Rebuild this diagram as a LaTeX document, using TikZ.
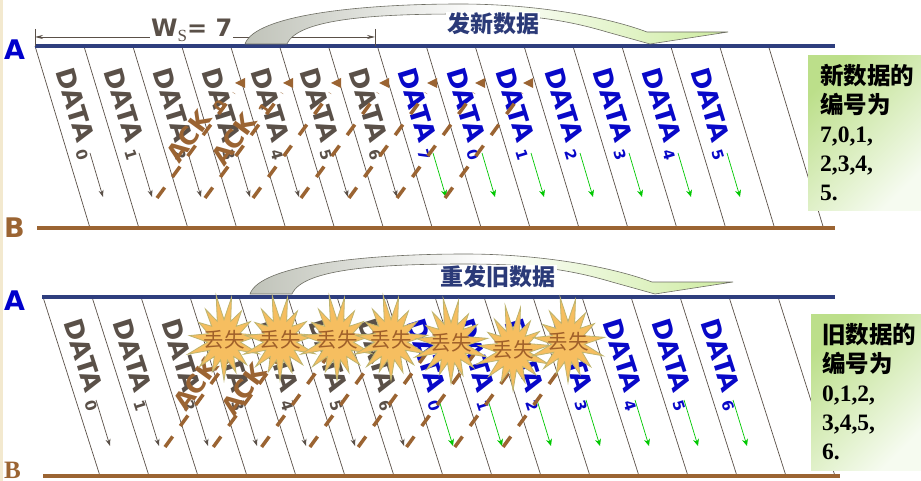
\documentclass[tikz,border=0pt]{standalone}
\usepackage{fontspec}
\setmainfont{Liberation Serif}
\setsansfont{Liberation Sans}
\newfontfamily\cjk{Noto Sans CJK SC}
\newfontfamily\dvs{DejaVu Sans}
\usetikzlibrary{arrows.meta}

\definecolor{navy}{RGB}{46,62,126}
\definecolor{blueA}{RGB}{0,0,204}
\definecolor{dblue}{RGB}{8,8,200}
\definecolor{brn}{RGB}{155,100,50}
\definecolor{dgray}{RGB}{90,80,72}
\definecolor{grn}{RGB}{0,200,0}
\definecolor{starfill}{RGB}{246,190,96}
\definecolor{staredge}{RGB}{190,180,110}
\definecolor{startxt}{RGB}{160,96,42}
\definecolor{arrowgray}{RGB}{192,195,185}
\definecolor{arrowgreen}{RGB}{205,235,160}
\definecolor{arrowedge}{RGB}{110,110,100}
\definecolor{beige}{RGB}{243,233,207}
\definecolor{titlecol}{RGB}{43,58,120}
\definecolor{boxdark}{RGB}{188,223,138}
\definecolor{boxlight}{RGB}{246,251,240}

\newcommand{\mysubdig}[2]{\hspace{#1}\raisebox{-4pt}{\fontsize{15}{15}\selectfont #2}}
\newcommand{\lossstar}[3]{%
  \filldraw[fill=starfill, draw=staredge, line width=0.8pt]
    plot[samples=30, domain=0:29, variable=\k]
    ({#2+(25+8.5*cos(180*\k))*(1+0.07*sin(137*\k)*(1+cos(180*\k)))*cos(90+12*\k)},
     {#3+(30.5+10*cos(180*\k))*(1+0.07*sin(137*\k)*(1+cos(180*\k)))*sin(90+12*\k)}) -- cycle;
  \node[losstext] (lost#1) at (#2,#3) {丢失};
}

\tikzset{
  slant/.style={draw=dgray, line width=0.7pt},
  aline/.style={draw=navy, line width=4pt},
  bline/.style={draw=brn, line width=4pt},
  datalbl/.style={inner sep=0pt, anchor=base west, font=\dvs\bfseries\fontsize{26}{26}\selectfont},
  grayarr/.style={draw=dgray, line width=0.7pt, -{Stealth[length=7pt,width=5pt]}},
  greenarr/.style={draw=grn, line width=0.7pt, -{Stealth[length=7pt,width=6pt]}},
  ackline/.style={draw=brn, line width=3.5pt, dash pattern=on 13pt off 13pt},
  acklbl/.style={inner sep=0pt, anchor=base west, rotate=54, text=brn, font=\dvs\bfseries\fontsize{25}{25}\selectfont},
  losstext/.style={inner sep=0pt, text=startxt, font=\cjk\fontsize{20.5}{20.5}\selectfont},
  sidelbl/.style={inner sep=0pt, anchor=base west, font=\dvs\bfseries\fontsize{27}{27}\selectfont},
  titletxt/.style={inner sep=1pt, fill=white, text=titlecol, font=\cjk\bfseries\fontsize{23}{23}\selectfont},
  boxtxt/.style={inner sep=0pt, anchor=base west, font=\bfseries\fontsize{23.5}{23.5}\selectfont},
  bigarrow/.style={draw=arrowedge, line width=0.6pt, left color=arrowgray, right color=arrowgreen, middle color=white},
  dimline/.style={draw=dgray, line width=0.7pt},
  greenbox/.style={left color=boxdark, right color=boxlight, shading angle=45},
}

\begin{document}
\begin{tikzpicture}[x=1pt,y=-1pt]
\useasboundingbox (0,0) rectangle (921,481);
\fill[white] (0,0) rectangle (921,481);
\fill[beige] (0,0) rectangle (3,481);

% ================= TOP PANEL =================
\foreach \i in {0,...,15} {
  \coordinate (tt\i) at ({35+48.9*\i},46);
  \coordinate (tbm\i) at ({90+48.9*\i},228);
  \draw[slant] (tt\i) -- (tbm\i);
}
\coordinate (Ats) at (35,46); \coordinate (Ate) at (835,46);
\coordinate (Bts) at (37,228); \coordinate (Bte) at (835,228);
\draw[aline] (Ats) -- (Ate);
\draw[bline] (Bts) -- (Bte);

\foreach \i/\n in {0/0,1/1,2/2,3/3,4/4,5/5,6/6} {
  \node[datalbl, text=dgray, rotate=-73] (tD\i) at ({55+48.9*\i},71) {DATA\mysubdig{7pt}{\n}};
  \coordinate (tas\i) at ({90+49*\i},153); \coordinate (tae\i) at ({103+49*\i},197);
  \draw[grayarr] (tas\i) -- (tae\i);
}
\foreach \i/\n in {7/7,8/0,9/1,10/2,11/3,12/4,13/5} {
  \node[datalbl, text=dblue, rotate=-73] (tD\i) at ({55+48.9*\i},71) {DATA\mysubdig{7pt}{\n}};
  \coordinate (tas\i) at ({90+49*\i},153); \coordinate (tae\i) at ({103+49*\i},197);
  \draw[greenarr] (tas\i) -- (tae\i);
}

\foreach \i in {0,...,6} {
  \coordinate (tk\i) at ({157+48*\i},198);
  \coordinate (tkt\i) at ({234+48*\i},93);
  \draw[ackline] (tk\i) -- (tkt\i);
  \fill[brn] ({235+48*\i},83) -- ++(10,-5) -- ++(0,10) -- cycle;
}
\node[acklbl] (tack0) at (179,165) {ACK\mysubdig{9pt}{0}};
\node[acklbl] (tack1) at (224,168) {ACK\mysubdig{9pt}{1}};

% ================= BOTTOM PANEL =================
\foreach \i in {0,...,15} {
  \coordinate (bt\i) at ({43+49*\i},297);
  \coordinate (bbm\i) at ({100+49*\i},476);
  \draw[slant] (bt\i) -- (bbm\i);
}
\coordinate (Abs) at (42,297); \coordinate (Abe) at (835,297);
\coordinate (Bbs) at (43,476); \coordinate (Bbe) at (840,476);
\draw[aline] (Abs) -- (Abe);
\draw[bline] (Bbs) -- (Bbe);

\foreach \i/\n in {0/0,1/1,2/2,3/3,4/4,5/5,6/6} {
  \node[datalbl, text=dgray, rotate=-72.3] (bD\i) at ({63+49*\i},322) {DATA\mysubdig{7pt}{\n}};
  \coordinate (bas\i) at ({96+49*\i},400); \coordinate (bae\i) at ({110+49*\i},446);
  \draw[grayarr] (bas\i) -- (bae\i);
}
\foreach \i/\n in {7/0,8/1,9/2,10/3,11/4,12/5,13/6} {
  \node[datalbl, text=dblue, rotate=-72.3] (bD\i) at ({63+49*\i},322) {DATA\mysubdig{7pt}{\n}};
  \coordinate (bas\i) at ({96+49*\i},400); \coordinate (bae\i) at ({110+49*\i},446);
  \draw[greenarr] (bas\i) -- (bae\i);
}

\foreach \i in {0,...,7} {
  \coordinate (bk\i) at ({165+48.3*\i},447);
  \coordinate (bkt\i) at ({240+48.3*\i},344);
  \draw[ackline] (bk\i) -- (bkt\i);
}
\node[acklbl] (back0) at (186,413) {ACK\mysubdig{9pt}{0}};
\node[acklbl] (back1) at (234,418) {ACK\mysubdig{9pt}{1}};

\lossstar{1}{224}{340}
\lossstar{2}{280}{340}
\lossstar{3}{337}{340}
\lossstar{4}{391}{340}
\lossstar{5}{451}{343}
\lossstar{6}{513}{350}
\lossstar{7}{568}{342}

% ================= W_S dimension =================
\coordinate (wl) at (35,37); \coordinate (wr) at (375,37);
\draw[dimline, {Stealth[length=8pt,width=4pt]}-{Stealth[length=8pt,width=4pt]}] (wl) -- (wr);
\coordinate (wl1) at (35,29); \coordinate (wl2) at (35,46);
\coordinate (wr1) at (375,29); \coordinate (wr2) at (375,46);
\draw[dimline] (wl1) -- (wl2);
\draw[dimline] (wr1) -- (wr2);
\node[inner sep=1pt, fill=white, anchor=base west, text=dgray] (ws) at (150,37)
  {{\dvs\bfseries\fontsize{24}{24}\selectfont W}\raisebox{-5pt}{\rmfamily\fontsize{17}{17}\selectfont S}{\dvs\bfseries\fontsize{24}{24}\selectfont= 7}};

% ================= curved arrows =================
\foreach \dx/\dy in {0/0,5/250} {
  \begin{scope}[shift={(\dx,\dy)}]
  \path[bigarrow] (245,44) .. controls (255,15) and (360,4) .. (460,4)
     .. controls (540,4) and (610,18) .. (647,32) -- (728,32) -- (650,44) -- (607,32)
     .. controls (560,18) and (520,14) .. (460,14)
     .. controls (380,14) and (298,18) .. (287,44) -- cycle;
  \end{scope}
}
\node[titletxt] (t1) at (493,24) {发新数据};
\node[titletxt] (t2) at (498,277) {重发旧数据};

% ================= A / B labels =================
\node[sidelbl, text=blueA] (Atop) at (4,60) {A};
\node[sidelbl, text=brn] (Btop) at (4,237) {B};
\node[sidelbl, text=blueA] (Abot) at (4,310) {A};
\node[inner sep=0pt, anchor=base west, text=brn, font=\rmfamily\bfseries\fontsize{25}{25}\selectfont] (Bbot) at (4,478) {B};

% ================= green boxes =================
\shade[greenbox] (808,56) rectangle (921,211);
\shade[greenbox] (811,314) rectangle (921,470);

\node[boxtxt] (n1) at (820,85) {\cjk 新数据的};
\node[boxtxt] (n2) at (820,114) {\cjk 编号为};
\node[boxtxt] (n3) at (820,143) {7,0,1,};
\node[boxtxt] (n4) at (820,172) {2,3,4,};
\node[boxtxt] (n5) at (820,201) {5.};

\node[boxtxt] (o1) at (822,343) {\cjk 旧数据的};
\node[boxtxt] (o2) at (822,372) {\cjk 编号为};
\node[boxtxt] (o3) at (822,401) {0,1,2,};
\node[boxtxt] (o4) at (822,430) {3,4,5,};
\node[boxtxt] (o5) at (822,459) {6.};
\end{tikzpicture}
\end{document}
